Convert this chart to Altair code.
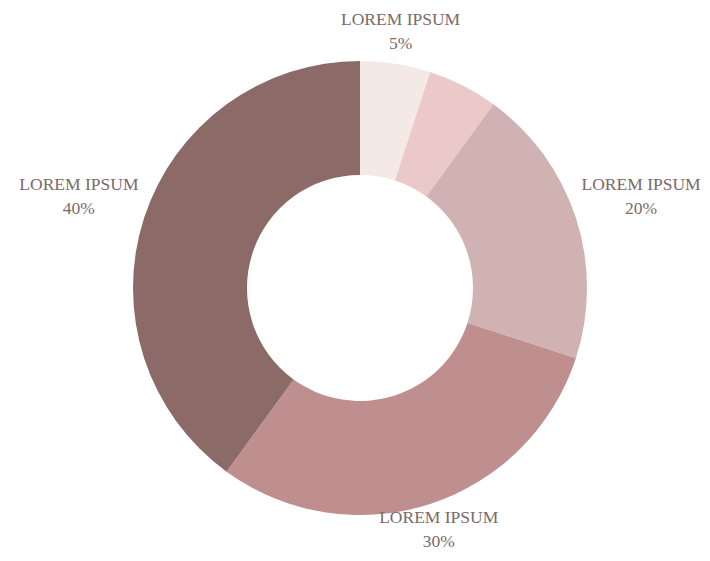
import altair as alt
import pandas as pd

labels = ["LOREM IPSUM", "", "LOREM IPSUM", "LOREM IPSUM", "LOREM IPSUM"]
values = [5, 5, 20, 30, 40]
colors = ["#f5e9e5", "#ecc9c9", "#d1b2b2", "#bf8f8f", "#8c6a68"]
show_label = [True, False, True, True, True]

df = pd.DataFrame({
    "idx": list(range(len(values))),
    "label": labels,
    "value": values,
    "show": show_label,
})

total = sum(values)

arcs = alt.Chart(df).mark_arc(innerRadius=113, outerRadius=227, x=352, y=280, stroke=None).encode(
    theta=alt.Theta("value:Q", stack=True),
    order=alt.Order("idx:Q"),
    color=alt.Color("idx:N", scale=alt.Scale(domain=list(range(len(values))), range=colors), legend=None),
)

text = alt.Chart(df).transform_window(
    cum="sum(value)", sort=[alt.SortField("idx")], frame=[None, 0]
).transform_calculate(
    mid=f"2*PI*(datum.cum - datum.value/2)/{total}",
).transform_calculate(
    r="312 - 56.7*abs(cos(datum.mid)) + 3.5*cos(datum.mid)",
    txt="datum.show ? datum.label + '\\n' + datum.value + '%' : ''",
).mark_text(
    x=352, y=280, font="Liberation Serif", fontSize=17.5, color="#7a6a6a",
    lineBreak="\n", align="center", baseline="middle", lineHeight=24, dy=-12,
).encode(
    theta=alt.Theta("mid:Q", scale=None),
    radius=alt.Radius("r:Q", scale=None),
    text="txt:N",
)

chart = alt.layer(arcs, text).resolve_scale(theta="independent").properties(
    width=694, height=545, autosize=alt.AutoSizeParams(type="none"), padding=0
).configure_view(stroke=None)

chart.save("out.html", embed_options={"renderer": "svg", "actions": False})
